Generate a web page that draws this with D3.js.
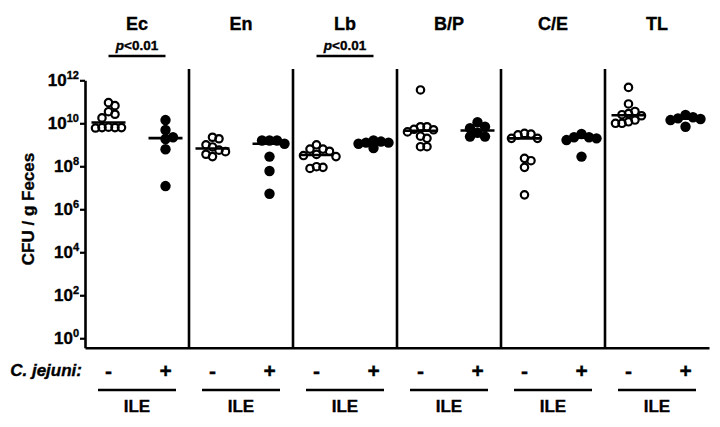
<!DOCTYPE html>
<html><head><meta charset="utf-8">
<script src="https://cdn.jsdelivr.net/npm/d3@7"></script>
<style>
body{margin:0;background:#fff}
text{font-family:"Liberation Sans",Arial,sans-serif;font-weight:bold;fill:#000;stroke:#000;stroke-width:0.35px}
</style>
</head><body>
<svg id="c" width="720" height="427"></svg>
<script>
// ---- data (log10 CFU / g feces) ----
const panels = ["Ec","En","Lb","B/P","C/E","TL"];
const groups = ["-","+"];
const sigLabels = ["<0.01","","<0.01","","",""];
const yTickExps = [0,2,4,6,8,10,12];
const groupLabel = "ILE";

const ecNeg = [10.96, 10.82, 10.54, 10.42, 10.25, 9.82, 9.8, 9.8, 9.8, 9.78];
const ecPos = [10.15, 9.69, 9.35, 9.27, 8.79, 7.08];
const enNeg = [9.35, 9.28, 9.0, 8.9, 8.75, 8.68, 8.56, 8.45];
const enPos = [9.2, 9.2, 9.2, 9.05, 8.45, 7.78, 6.72];
const lbNeg = [9.0, 8.8, 8.8, 8.7, 8.55, 8.5, 8.45, 7.98, 7.95, 7.9];
const lbPos = [9.2, 9.15, 9.1, 9.1, 9.05, 8.85];
const bpNeg = [11.55, 9.84, 9.84, 9.72, 9.7, 9.6, 9.4, 9.3, 8.91, 8.91];
const bpPos = [10.05, 9.84, 9.77, 9.56, 9.38, 9.38];
const ceNeg = [9.53, 9.5, 9.46, 9.3, 9.3, 8.37, 8.26, 7.95, 6.67];
const cePos = [9.5, 9.35, 9.35, 9.3, 9.22, 8.45];
const tlNeg = [11.67, 10.9, 10.55, 10.45, 10.4, 10.35, 10.15, 10.07, 10.0, 10.0];
const tlPos = [10.39, 10.28, 10.23, 10.2, 10.15, 9.84];

const seriesNeg = [ecNeg, enNeg, lbNeg, bpNeg, ceNeg, tlNeg];
const seriesPos = [ecPos, enPos, lbPos, bpPos, cePos, tlPos];

// ---- layout ----
const svg = d3.select("#c");
const mLeft = 85, mRight = 709, mTop = 80.3, mBottom = 347.7;
const x = d3.scaleBand().domain(panels).range([mLeft, mRight]);
const xg = d3.scalePoint().domain(groups).range([0, x.bandwidth()]).padding(0.412);
const y = d3.scaleLog().domain([Math.pow(10, -0.44), 1e12]).range([mBottom, mTop]);
const cx = (p, g) => x(p) + xg(g);
const SW = 2.6;

// y axis
const yAxis = svg.append("g").attr("transform", `translate(${mLeft},0)`)
  .call(d3.axisLeft(y).tickValues(yTickExps.map(e => Math.pow(10, e)))
    .tickSize(5).tickSizeOuter(0).tickFormat(() => ""));
yAxis.select(".domain").attr("stroke", "#000").attr("stroke-width", SW);
yAxis.selectAll(".tick line").attr("stroke", "#000").attr("stroke-width", 2.2);
yTickExps.forEach(e => {
  const t = svg.append("text").attr("x", mLeft - 6).attr("y", y(Math.pow(10, e)) + 6)
    .attr("text-anchor", "end").style("font-size", "17px");
  t.append("tspan").text("10");
  t.append("tspan").attr("dy", -7).style("font-size", "11px").text(e);
});

// x axis
const xAxis = svg.append("g").attr("transform", `translate(0,${mBottom})`)
  .call(d3.axisBottom(x).tickSize(0).tickSizeOuter(0).tickFormat(() => ""));
xAxis.select(".domain").attr("stroke", "#000").attr("stroke-width", SW);

// separators
panels.slice(0, -1).forEach(p => {
  svg.append("line").attr("x1", x(p) + x.bandwidth()).attr("x2", x(p) + x.bandwidth())
    .attr("y1", 69).attr("y2", mBottom).attr("stroke", "#000").attr("stroke-width", SW);
});

// y label
svg.append("text").attr("transform", "translate(34,209) rotate(-90)")
  .attr("text-anchor", "middle").style("font-size", "17px").text("CFU / g Feces");

// swarm layout
function swarm(vals, s, d) {
  const pts = vals.map(v => ({v, y: y(Math.pow(10, v))})).sort((a, b) => a.y - b.y);
  const placed = [];
  pts.forEach(p => {
    for (let k = 0; k < 40; k++) {
      const off = k === 0 ? 0 : (k % 2 ? 1 : -1) * Math.ceil(k / 2) * s;
      if (!placed.some(q => Math.abs(q.off - off) < s * 0.5 && Math.abs(q.y - p.y) < d)) {
        p.off = off; placed.push(p); break;
      }
    }
  });
  return placed;
}

panels.forEach((p, i) => {
  const c = x(p) + x.bandwidth() / 2;
  svg.append("text").attr("x", c).attr("y", 30).attr("text-anchor", "middle")
    .style("font-size", "18px").text(p);
  if (sigLabels[i]) {
    const t = svg.append("text").attr("x", c).attr("y", 49.5).attr("text-anchor", "middle")
      .style("font-size", "13.5px");
    t.append("tspan").style("font-style", "italic").text("p");
    t.append("tspan").text(sigLabels[i]);
    svg.append("line").attr("x1", cx(p, "-")).attr("x2", cx(p, "+"))
      .attr("y1", 56).attr("y2", 56).attr("stroke", "#000").attr("stroke-width", SW);
  }
  groups.forEach(g => {
    svg.append("text").attr("x", cx(p, g)).attr("y", 377.5).attr("text-anchor", "middle")
      .style("font-size", "21px").text(g);
  });
  svg.append("line").attr("x1", c - 39).attr("x2", c + 39).attr("y1", 390).attr("y2", 390)
    .attr("stroke", "#000").attr("stroke-width", SW);
  svg.append("text").attr("x", c).attr("y", 412).attr("text-anchor", "middle")
    .style("font-size", "17px").text(groupLabel);

  [[seriesNeg[i], "-"], [seriesPos[i], "+"]].forEach(([vals, g]) => {
    const gx = cx(p, g);
    const open = g === "-";
    const pts = swarm(vals, open ? 6.5 : 7.5, open ? 8 : 7.5);
    const med = d3.median(vals);
    svg.append("line").attr("x1", gx - 17).attr("x2", gx + 17)
      .attr("y1", y(Math.pow(10, med))).attr("y2", y(Math.pow(10, med)))
      .attr("stroke", "#000").attr("stroke-width", SW);
    svg.append("g").selectAll("circle").data(pts).join("circle")
      .attr("cx", d => gx + d.off).attr("cy", d => d.y)
      .attr("r", open ? 3.7 : 5.2)
      .attr("fill", open ? "#fff" : "#000")
      .attr("fill-opacity", open ? 0 : 1)
      .attr("stroke", "#000").attr("stroke-width", open ? 2.2 : 0);
  });
});

svg.append("text").attr("x", 82).attr("y", 376).attr("text-anchor", "end")
  .style("font-size", "17px").style("font-style", "italic").text("C. jejuni:");
</script>
</body></html>
